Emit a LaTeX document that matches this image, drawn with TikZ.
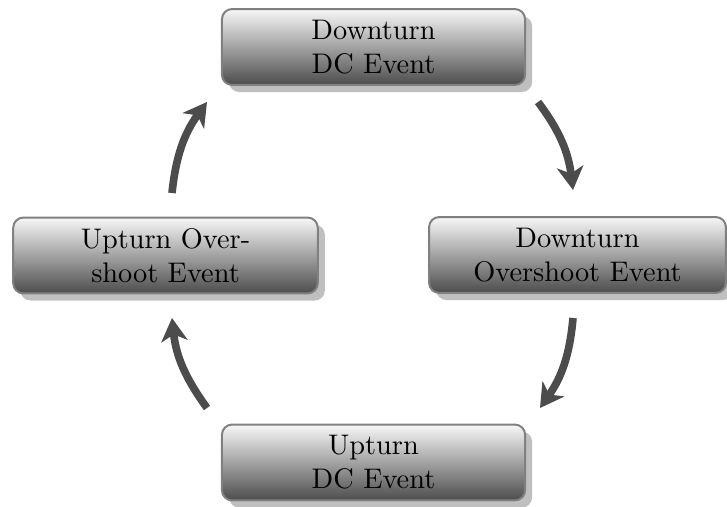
\documentclass[tikz,border=0pt]{standalone}
\usetikzlibrary{arrows.meta,shadows}
\begin{document}
\begin{tikzpicture}[x=0.353pt,y=0.353pt,
  stagebox/.style={draw=black!50, line width=0.7pt, rounded corners=3.6pt,
    top color=black!3, bottom color=black!70, align=center,
    minimum height=26.8pt, inner sep=0pt,
    drop shadow={shadow xshift=2.5pt, shadow yshift=-2.5pt, fill=black, opacity=0.25}},
  cyclearrow/.style={draw=black!70, line width=2.7pt,
    -{Stealth[length=8.2pt,width=9.3pt,inset=2.4pt]}}]
\useasboundingbox (0,0) rectangle (727,506);

% the four stages of the cycle
\node[stagebox, minimum width=107pt] (dcdown) at (373.5,459) {Downturn\\DC Event};
\node[stagebox, minimum width=104.8pt] (osdown) at (577.5,251) {Downturn\\Overshoot Event};
\node[stagebox, minimum width=107pt] (dcup) at (373.5,43.5) {Upturn\\DC Event};
\node[stagebox, minimum width=107.5pt] (osup) at (165.5,250.5) {Upturn Over-\\shoot Event};

% arrow ends between the stages
\coordinate (a1s) at (538,404);
\coordinate (a1e) at (573,316);
\coordinate (a2s) at (573,188);
\coordinate (a2e) at (540,98);
\coordinate (a3s) at (207,98);
\coordinate (a3e) at (172,188);
\coordinate (a4s) at (172,313);
\coordinate (a4e) at (207,404);

% clockwise arrows
\draw[cyclearrow] (a1s) to[out=-53,in=97] (a1e);
\draw[cyclearrow] (a2s) to[out=-95,in=55] (a2e);
\draw[cyclearrow] (a3s) to[out=126,in=-84] (a3e);
\draw[cyclearrow] (a4s) to[out=84,in=-126] (a4e);
\end{tikzpicture}
\end{document}
